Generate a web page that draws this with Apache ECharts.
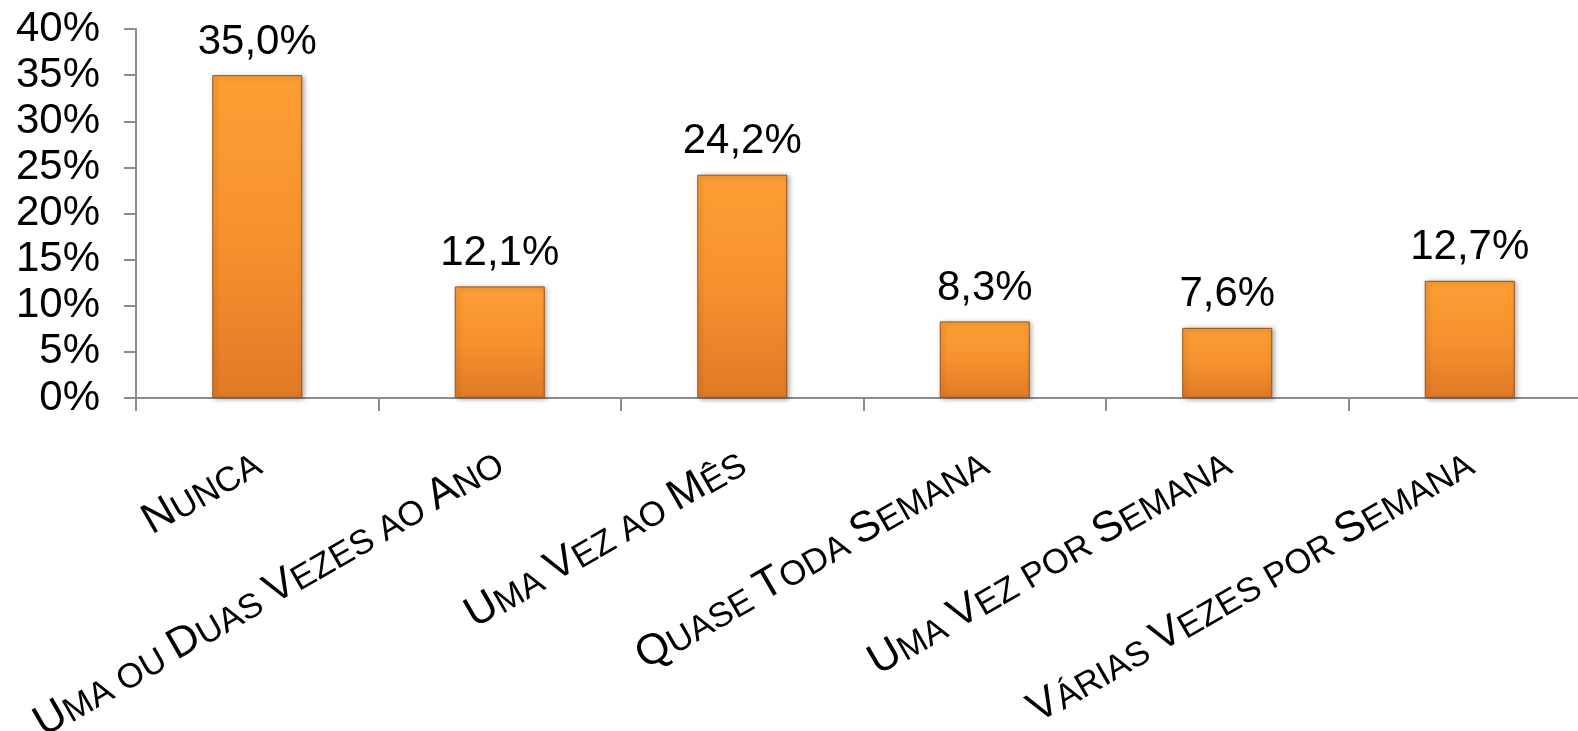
<!DOCTYPE html>
<html>
<head>
<meta charset="utf-8">
<script src="https://cdn.jsdelivr.net/npm/echarts@6/dist/echarts.min.js"></script>
<style>
html,body{margin:0;padding:0;background:#fff;overflow:hidden;}
#chart{width:1578px;height:731px;}
</style>
</head>
<body>
<div id="chart"></div>
<script>
const categories = ['Nunca', 'Uma ou Duas Vezes ao Ano', 'Uma Vez ao Mês', 'Quase Toda Semana', 'Uma Vez por Semana', 'Várias Vezes por Semana'];
const values = [35.0, 12.1, 24.2, 8.3, 7.6, 12.7];
const yMin = 0, yMax = 40, yStep = 5;

const FONT = '"Liberation Sans", Arial, sans-serif';

function smallCaps(s) {
  let out = '', cur = null, buf = '';
  for (const ch of s) {
    let t;
    if (ch === ' ') t = cur || 's';
    else t = (ch === ch.toUpperCase() && ch !== ch.toLowerCase()) ? 'b' : 's';
    if (t !== cur && cur !== null) { out += '{' + cur + '|' + buf + '}'; buf = ''; }
    cur = t;
    buf += ch.toUpperCase();
  }
  if (buf) out += '{' + cur + '|' + buf + '}';
  return out;
}

const chart = echarts.init(document.getElementById('chart'), null, {renderer: 'canvas'});
chart.setOption({
  animation: false,
  backgroundColor: '#ffffff',
  grid: {left: 136, top: 29, width: 1455, bottom: 333, containLabel: false, outerBoundsMode: 'none'},
  xAxis: {
    type: 'category',
    data: categories,
    boundaryGap: true,
    axisLine: {show: true, lineStyle: {color: '#8c8c8c', width: 2}},
    axisTick: {show: true, length: 13, lineStyle: {color: '#8c8c8c', width: 2}},
    axisLabel: {
      interval: 0,
      rotate: 30,
      margin: 62,
      color: '#000',
      fontFamily: FONT,
      formatter: v => smallCaps(v),
      rich: {
        b: {fontSize: 43, lineHeight: 43, fontFamily: FONT, color: '#000', verticalAlign: 'bottom'},
        s: {fontSize: 34.5, lineHeight: 34.5, fontFamily: FONT, color: '#000', verticalAlign: 'bottom'}
      }
    }
  },
  yAxis: {
    type: 'value',
    min: yMin, max: yMax, interval: yStep,
    splitLine: {show: false},
    axisLine: {show: true, lineStyle: {color: '#8c8c8c', width: 2}},
    axisTick: {show: true, length: 12, lineStyle: {color: '#8c8c8c', width: 2}},
    axisLabel: {
      margin: 36,
      color: '#000',
      fontSize: 42,
      fontFamily: FONT,
      formatter: v => v + '%'
    }
  },
  series: [{
    type: 'bar',
    data: values,
    barWidth: 90,
    itemStyle: {
      color: new echarts.graphic.LinearGradient(0, 0, 0, 1, [
        {offset: 0, color: '#fd9e34'},
        {offset: 0.5, color: '#f6922e'},
        {offset: 1, color: '#e07a28'}
      ]),
      borderColor: '#9a5418',
      borderWidth: 1,
      shadowColor: 'rgba(0,0,0,0.35)',
      shadowBlur: 5,
      shadowOffsetX: 2,
      shadowOffsetY: 1
    },
    label: {
      show: true,
      position: 'top',
      distance: 12,
      color: '#000',
      fontSize: 42,
      fontFamily: FONT,
      formatter: p => p.value.toFixed(1).replace('.', ',') + '%'
    }
  }]
});
</script>
</body>
</html>
